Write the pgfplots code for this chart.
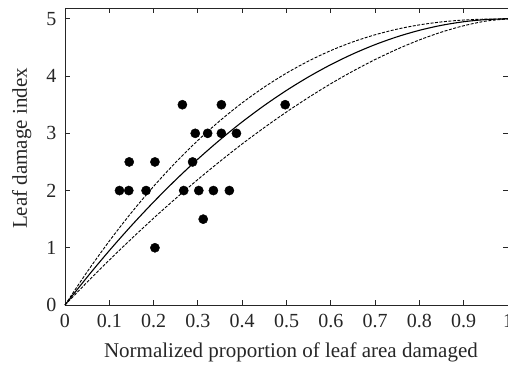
\documentclass[border=0pt]{standalone}
\usepackage{pgfplots}
\pgfplotsset{compat=1.18}
\usepackage{fontspec}
\setmainfont{Liberation Serif}
\begin{document}
\begin{tikzpicture}
\begin{axis}[
  name=ax,
  scale only axis,
  width=443pt, height=297pt,
  xmin=0, xmax=1, ymin=0, ymax=5.19,
  axis line style={line width=0.9pt, black!85},
  tick style={line width=0.9pt, black!85},
  tick align=inside,
  major tick length=5pt,
  xtick={0,0.1,0.2,0.3,0.4,0.5,0.6,0.7,0.8,0.9,1},
  xticklabels={0,0.1,0.2,0.3,0.4,0.5,0.6,0.7,0.8,0.9,1},
  ytick={0,1,2,3,4,5},
  yticklabels={0,1,2,3,4,5},
  tick label style={font=\fontsize{20}{23}\selectfont, text=black!85},
  x tick label style={yshift=-6pt},
  y tick label style={xshift=-5pt},
  label style={font=\fontsize{21}{24}\selectfont, text=black!85},
  xlabel={Normalized proportion of leaf area damaged},
  ylabel={Leaf damage index},
  xlabel style={at={(axis description cs:0.51,-0.178)}, anchor=base},
  ylabel style={at={(axis description cs:-0.0858,0.527)}, anchor=base, rotate=0},
  clip=false,
]
% fitted curve (solid)
\addplot[black, line width=1.1pt, smooth] coordinates {
(0,0) (0.05,0.4875) (0.1,0.95) (0.15,1.3875) (0.2,1.8) (0.25,2.1875) (0.3,2.55)
(0.35,2.8875) (0.4,3.2) (0.45,3.4875) (0.5,3.75) (0.55,3.9875) (0.6,4.2)
(0.65,4.3875) (0.7,4.55) (0.75,4.6875) (0.8,4.8) (0.85,4.8875) (0.9,4.95)
(0.95,4.9875) (1,5)};
% upper band (dashed)
\addplot[black, line width=0.9pt, smooth, dash pattern=on 3pt off 1.5pt] coordinates {
(0,0) (0.05,0.579) (0.1,1.117) (0.15,1.615) (0.2,2.073) (0.25,2.493) (0.3,2.876)
(0.35,3.222) (0.4,3.533) (0.45,3.809) (0.5,4.052) (0.55,4.264) (0.6,4.446)
(0.65,4.598) (0.7,4.722) (0.75,4.821) (0.8,4.895) (0.85,4.947) (0.9,4.980)
(0.95,4.996) (1,5)};
% lower band (dashed)
\addplot[black, line width=0.9pt, smooth, dash pattern=on 3pt off 1.5pt] coordinates {
(0,0) (0.05,0.399) (0.1,0.785) (0.15,1.157) (0.2,1.517) (0.25,1.862) (0.3,2.194)
(0.35,2.511) (0.4,2.815) (0.45,3.101) (0.5,3.373) (0.55,3.628) (0.6,3.867)
(0.65,4.087) (0.7,4.289) (0.75,4.471) (0.8,4.632) (0.85,4.769) (0.9,4.880)
(0.95,4.961) (1,5)};
% observations
\addplot[only marks, mark=*, mark size=4.6pt, black, mark options={fill=black}] coordinates {
(0.265,3.5) (0.353,3.5) (0.497,3.5)
(0.294,3) (0.322,3) (0.353,3) (0.387,3)
(0.145,2.5) (0.203,2.5) (0.288,2.5)
(0.123,2) (0.144,2) (0.183,2) (0.268,2) (0.302,2) (0.335,2) (0.371,2)
(0.312,1.5) (0.203,1)};
\end{axis}
\pgfresetboundingbox
\path ([xshift=-65pt,yshift=-64pt]ax.south west) rectangle ([yshift=8pt]ax.north east);
\end{tikzpicture}
\end{document}
